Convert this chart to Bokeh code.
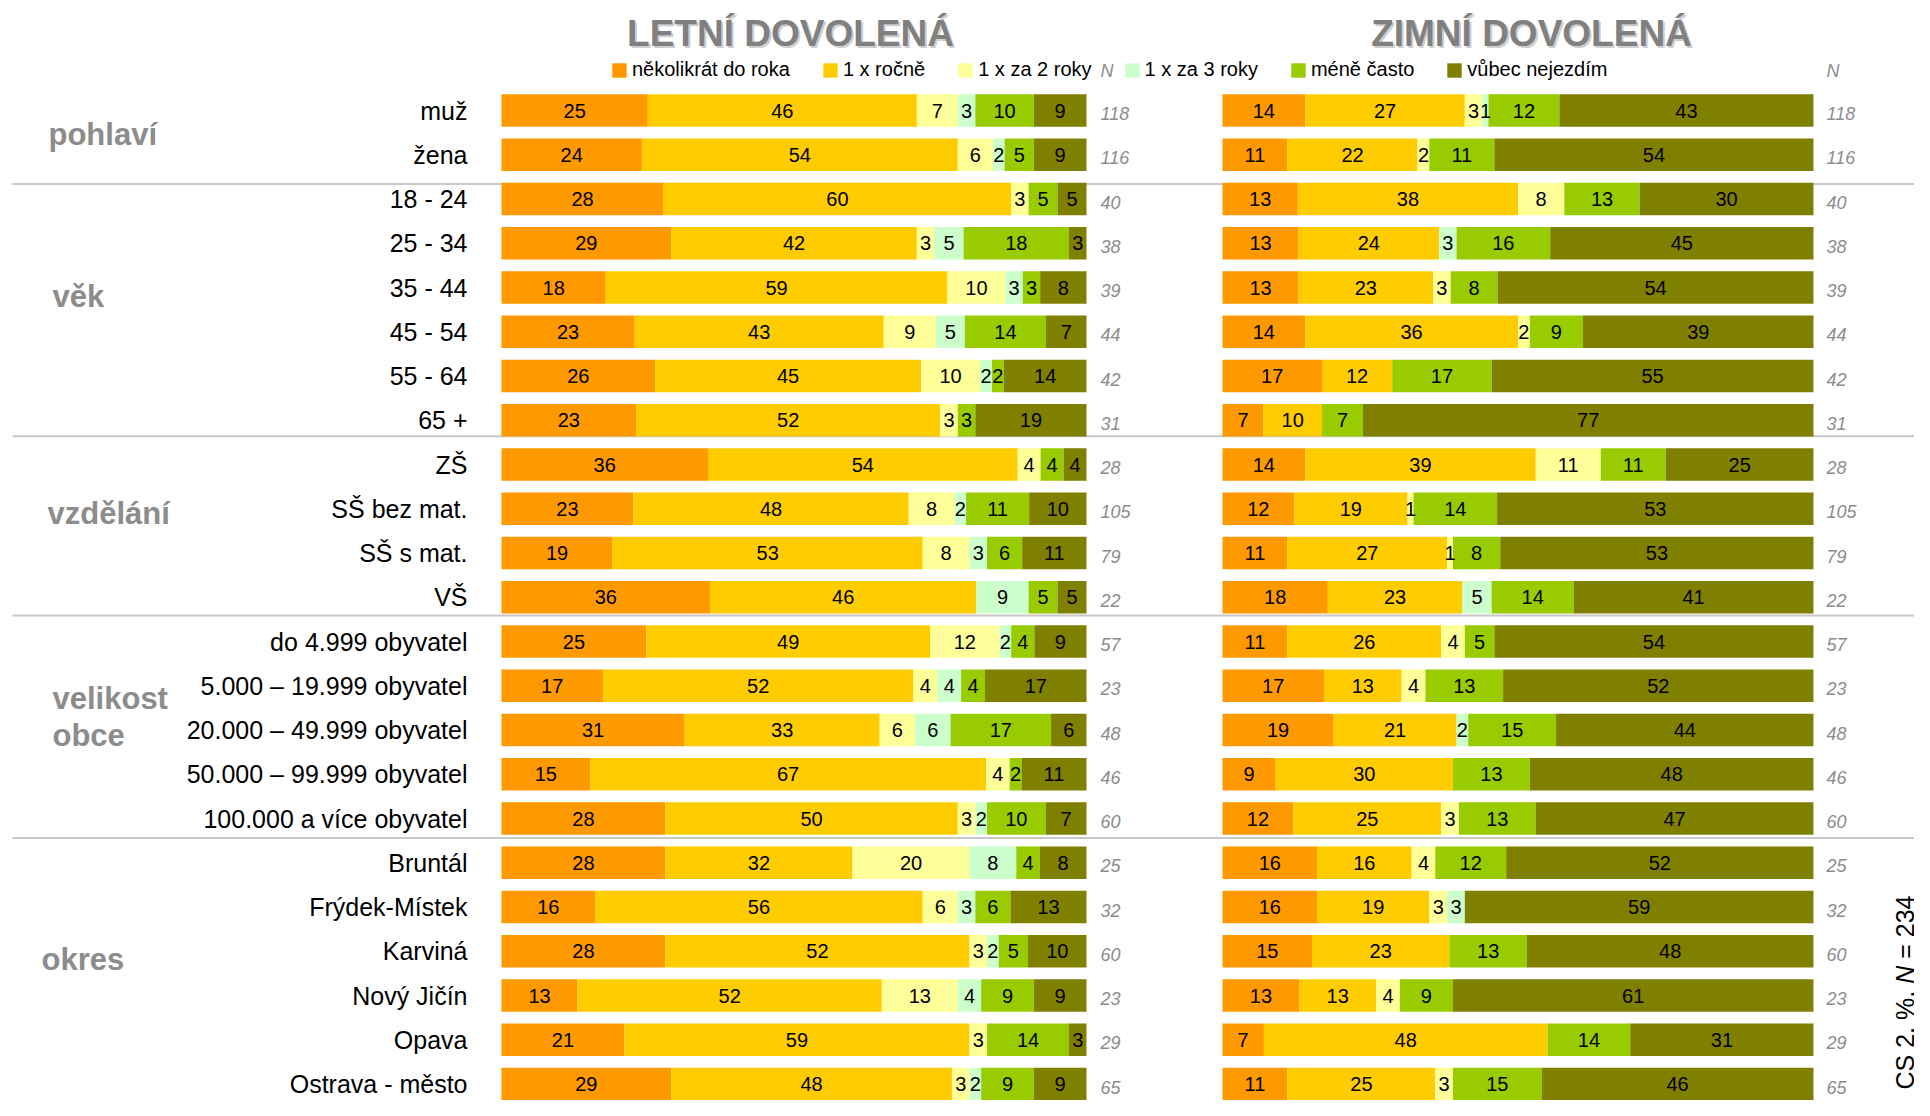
from bokeh.plotting import figure
from bokeh.models import Range1d, ColumnDataSource, Legend, LegendItem
from bokeh.core.properties import value
from bokeh.embed import file_html
from bokeh.resources import INLINE
import math

# ---------------- data ----------------
categories = ["muž", "žena",
              "18 - 24", "25 - 34", "35 - 44", "45 - 54", "55 - 64", "65 +",
              "ZŠ", "SŠ bez mat.", "SŠ s mat.", "VŠ",
              "do 4.999 obyvatel", "5.000 – 19.999 obyvatel", "20.000 – 49.999 obyvatel",
              "50.000 – 99.999 obyvatel", "100.000 a více obyvatel",
              "Bruntál", "Frýdek-Místek", "Karviná", "Nový Jičín", "Opava", "Ostrava - město"]
n_values = [118, 116, 40, 38, 39, 44, 42, 31, 28, 105, 79, 22, 57, 23, 48, 46, 60,
            25, 32, 60, 23, 29, 65]

group_names = ["pohlaví", "věk", "vzdělání", "velikost", "obce", "okres"]
group_sizes = [2, 6, 4, 5, 6]

series_names = ["několikrát do roka", "1 x ročně", "1 x za 2 roky",
                "1 x za 3 roky", "méně často", "vůbec nejezdím"]
series_colors = ["#FF9900", "#FFCC00", "#FFFF99", "#CCFFCC", "#99CC00", "#808000"]

# LETNÍ DOVOLENÁ (summer)
summer_several = [25, 24, 28, 29, 18, 23, 26, 23, 36, 23, 19, 36, 25, 17, 31, 15, 28, 28, 16, 28, 13, 21, 29]
summer_yearly  = [46, 54, 60, 42, 59, 43, 45, 52, 54, 48, 53, 46, 49, 52, 33, 67, 50, 32, 56, 52, 52, 59, 48]
summer_2y      = [7, 6, 3, 3, 10, 9, 10, 3, 4, 8, 8, 0, 12, 4, 6, 4, 3, 20, 6, 3, 13, 3, 3]
summer_3y      = [3, 2, 0, 5, 3, 5, 2, 0, 0, 2, 3, 9, 2, 4, 6, 0, 2, 8, 3, 2, 4, 0, 2]
summer_less    = [10, 5, 5, 18, 3, 14, 2, 3, 4, 11, 6, 5, 4, 4, 17, 2, 10, 4, 6, 5, 9, 14, 9]
summer_never   = [9, 9, 5, 3, 8, 7, 14, 19, 4, 10, 11, 5, 9, 17, 6, 11, 7, 8, 13, 10, 9, 3, 9]

# ZIMNÍ DOVOLENÁ (winter)
winter_several = [14, 11, 13, 13, 13, 14, 17, 7, 14, 12, 11, 18, 11, 17, 19, 9, 12, 16, 16, 15, 13, 7, 11]
winter_yearly  = [27, 22, 38, 24, 23, 36, 12, 10, 39, 19, 27, 23, 26, 13, 21, 30, 25, 16, 19, 23, 13, 48, 25]
winter_2y      = [3, 2, 8, 0, 3, 2, 0, 0, 11, 1, 1, 0, 4, 4, 0, 0, 3, 4, 3, 0, 4, 0, 3]
winter_3y      = [1, 0, 0, 3, 0, 0, 0, 0, 0, 0, 0, 5, 0, 0, 2, 0, 0, 0, 3, 0, 0, 0, 0]
winter_less    = [12, 11, 13, 16, 8, 9, 17, 7, 11, 14, 8, 14, 5, 13, 15, 13, 13, 12, 0, 13, 9, 14, 15]
winter_never   = [43, 54, 30, 45, 54, 39, 55, 77, 25, 53, 53, 41, 54, 52, 44, 48, 47, 52, 59, 48, 61, 31, 46]

summer = [summer_several, summer_yearly, summer_2y, summer_3y, summer_less, summer_never]
winter = [winter_several, winter_yearly, winter_2y, winter_3y, winter_less, winter_never]

# ---------------- layout ----------------
W, H = 1914, 1100
ROW0 = 110.0          # px of first row centre
ROW_H = 44.25         # px per row
BAR_H = 0.735         # bar thickness in rows
L_X0, L_SC = 501, 5.85
R_X0, R_SC = 1222, 5.91
FONT = value("Liberation Sans")

p = figure(width=W, height=H, output_backend="svg", toolbar_location=None,
           x_range=Range1d(0, W),
           y_range=Range1d((H - ROW0) / ROW_H, -ROW0 / ROW_H),
           x_axis_location=None, y_axis_location=None, min_border=0)
p.outline_line_color = None
p.grid.visible = False
p.background_fill_color = "white"
p.extra_x_ranges = {"summer": Range1d(-L_X0 / L_SC, (W - L_X0) / L_SC),
                    "winter": Range1d(-R_X0 / R_SC, (W - R_X0) / R_SC)}
p.extra_y_ranges = {"px": Range1d(H, 0)}

rows = list(range(len(categories)))

# separator lines between groups
bounds = []
acc = 0
for s in group_sizes[:-1]:
    acc += s
    bounds.append(acc)
line_adj = [0.16, -0.14, -0.09, -0.06]
line_rows = [b - 0.5 + a for b, a in zip(bounds, line_adj)]
p.segment(x0=[12] * len(line_rows), x1=[W] * len(line_rows), y0=line_rows, y1=line_rows,
          line_color="#C8C8C8", line_width=2)


def draw_chart(series, rng):
    totals = [sum(col) for col in zip(*series)]
    cum = [0.0] * len(rows)
    rends = []
    lx, ly, lt = [], [], []
    for vals, color in zip(series, series_colors):
        left = cum[:]
        right = [c + v / t * 100.0 for c, v, t in zip(cum, vals, totals)]
        src = ColumnDataSource(dict(row=rows, left=left, right=right))
        r = p.hbar(y="row", left="left", right="right", height=BAR_H, source=src,
                   fill_color=color, line_color=None, x_range_name=rng)
        rends.append(r)
        for i, v in enumerate(vals):
            if v > 0:
                lx.append((left[i] + right[i]) / 2)
                ly.append(i)
                lt.append(str(v))
        cum = right
    p.text(x="x", y="y", text="t", source=ColumnDataSource(dict(x=lx, y=ly, t=lt)),
           x_range_name=rng, text_align="center", text_baseline="middle",
           text_font=FONT, text_font_size="20px", text_color="black")
    return rends


summer_r = draw_chart(summer, "summer")
winter_r = draw_chart(winter, "winter")

# category labels
p.text(x=[0] * len(rows), y=rows, text=categories, x_range_name="summer", x_offset=-34,
       text_align="right", text_baseline="middle", text_font=FONT,
       text_font_size="25px", text_color="black")

# N values
nt = [str(n) for n in n_values]
for rng, off in (("summer", 14), ("winter", 13)):
    p.text(x=[100] * len(rows), y=rows, text=nt, x_range_name=rng, x_offset=off, y_offset=3,
           text_align="left", text_baseline="middle", text_font=FONT,
           text_font_style="italic", text_font_size="18px", text_color="#8C8C8C")

# N headers
p.text(x=[1100, 1826], y=[70, 70], text=["N", "N"], y_range_name="px",
       text_align="left", text_baseline="middle", text_font=FONT,
       text_font_style="italic", text_font_size="18px", text_color="#8C8C8C")

# group labels
group_x = [48, 52, 47, 52, 52, 41]
group_rows = [0.54, 4.2, 9.1, 13.28, 14.12, 19.18]
p.text(x=group_x, y=group_rows, text=group_names, text_align="left", text_baseline="middle",
       text_font=FONT, text_font_style="bold", text_font_size="31px", text_color="#8C8C8C")

# titles with shadow
titles = ["LETNÍ DOVOLENÁ", "ZIMNÍ DOVOLENÁ"]
tx = [790, 1531]
p.text(x=[x + 2 for x in tx], y=[35, 35], text=titles, y_range_name="px",
       text_align="center", text_baseline="middle", text_font=FONT,
       text_font_style="bold", text_font_size="37px", text_color="#CFCFCF")
p.text(x=tx, y=[33, 33], text=titles, y_range_name="px",
       text_align="center", text_baseline="middle", text_font=FONT,
       text_font_style="bold", text_font_size="37px", text_color="#808080")

# rotated note "CS 2, %, N = 234"
p.text(x=[1904], y=[1089], text=["CS 2, %,"], y_range_name="px", angle=math.pi / 2,
       text_align="left", text_baseline="middle", text_font=FONT,
       text_font_size="25px", text_color="black")
p.text(x=[1904], y=[983.3], text=["N"], y_range_name="px", angle=math.pi / 2,
       text_align="left", text_baseline="middle", text_font=FONT, text_font_style="italic",
       text_font_size="25px", text_color="black")
p.text(x=[1904], y=[958.3], text=["= 234"], y_range_name="px", angle=math.pi / 2,
       text_align="left", text_baseline="middle", text_font=FONT,
       text_font_size="25px", text_color="black")

# legend
legend = Legend(items=[LegendItem(label=n, renderers=[r]) for n, r in zip(series_names, summer_r)],
                orientation="horizontal", location=(610, 1019),
                border_line_color=None, background_fill_alpha=0, padding=0, margin=0,
                spacing=31, label_standoff=4, glyph_width=18, glyph_height=18,
                label_text_font="Liberation Sans", label_text_font_size="20px",
                label_text_color="black", label_height=18)
p.add_layout(legend)

open("out.html", "w").write(file_html(p, INLINE))
